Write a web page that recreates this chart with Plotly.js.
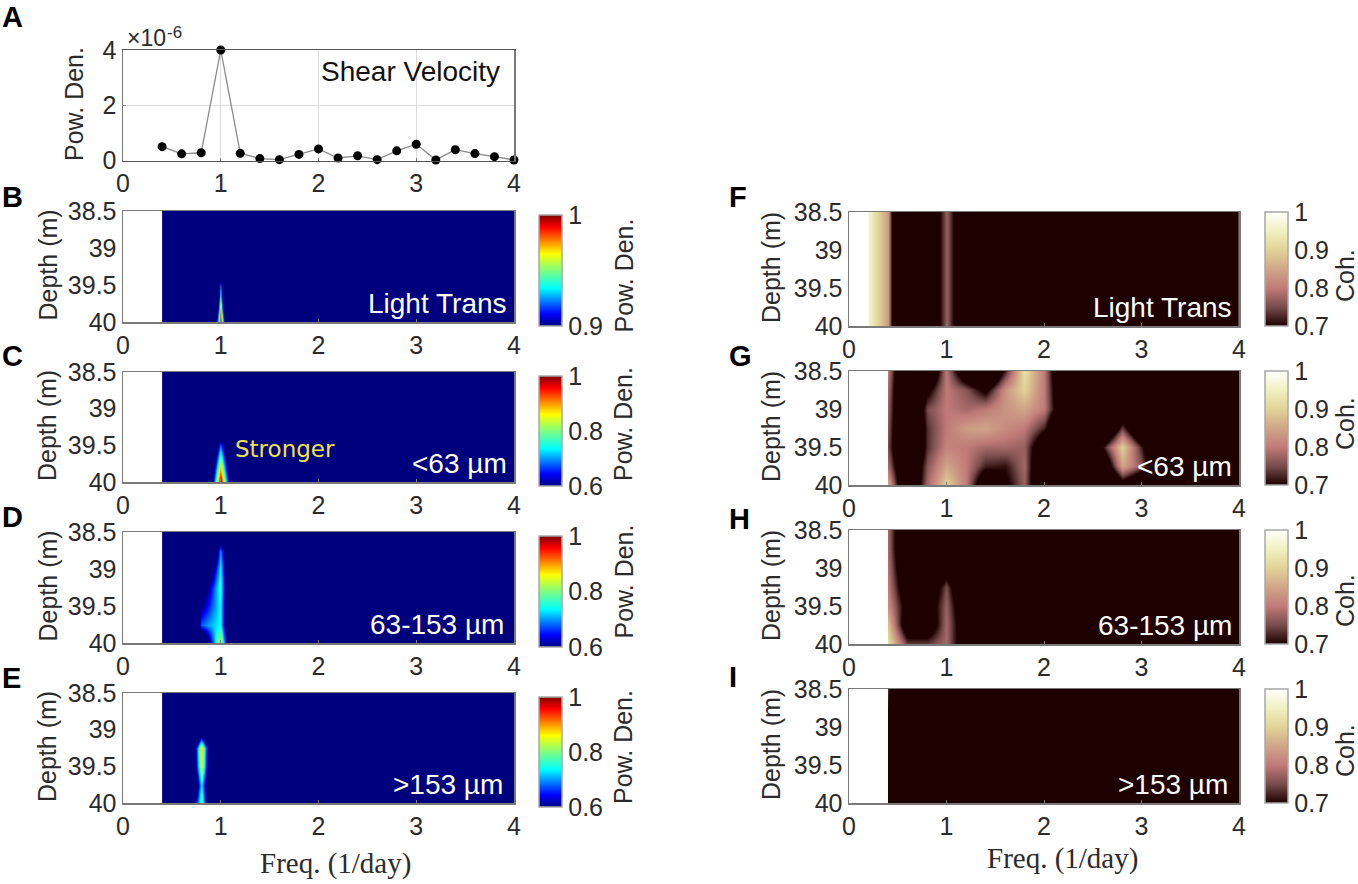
<!DOCTYPE html>
<html><head><meta charset="utf-8">
<script src="https://cdn.plot.ly/plotly-3.0.1.min.js"></script>
<style>html,body{margin:0;padding:0;background:#fff}#c{width:1358px;height:884px}
#c .hm image{filter:blur(0.7px)}</style></head>
<body><div id="c"></div>
<script>
// ---- data ----
const shearFreq=[0.4,0.6,0.8,1,1.2,1.4,1.6,1.8,2,2.2,2.4,2.6,2.8,3,3.2,3.4,3.6,3.8,4];
const shearPow=[0.5,0.24,0.28,4,0.26,0.07,0.03,0.22,0.42,0.09,0.17,0.03,0.35,0.59,0.02,0.39,0.25,0.14,0.02];
const depths=[38.5,38.75,39,39.25,39.5,39.75,40];
const freq=[0.4,0.6,0.8,1,1.2,1.4,1.6,1.8,2,2.2,2.4,2.6,2.8,3,3.2,3.4,3.6,3.8,4];
const freqF=[0.2].concat(freq);

const zB=[
[0,0,0,0.02,0,0,0,0,0,0,0,0,0,0,0,0,0,0,0],
[0,0,0,0.02,0,0,0,0,0,0,0,0,0,0,0,0,0,0,0],
[0,0,0,0.03,0,0,0,0,0,0,0,0,0,0,0,0,0,0,0],
[0,0,0,0.8,0,0,0,0,0,0,0,0,0,0,0,0,0,0,0],
[0,0,0.4,0.92,0.4,0,0,0,0,0,0,0,0,0,0,0,0,0,0],
[0,0,0.4,0.96,0.4,0,0,0,0,0,0,0,0,0,0,0,0,0,0],
[0,0,0.5,1,0.5,0,0,0,0,0,0,0,0,0,0,0,0,0,0]];
const zC=[
[0,0,0,0.05,0,0,0,0,0,0,0,0,0,0,0,0,0,0,0],
[0,0,0,0.05,0,0,0,0,0,0,0,0,0,0,0,0,0,0,0],
[0,0,0,0.06,0,0,0,0,0,0,0,0,0,0,0,0,0,0,0],
[0,0,0,0.4,0,0,0,0,0,0,0,0,0,0,0,0,0,0,0],
[0,0,0.02,0.68,0.02,0,0,0,0,0,0,0,0,0,0,0,0,0,0],
[0,0,0.03,0.85,0.03,0,0,0,0,0,0,0,0,0,0,0,0,0,0],
[0,0,0.05,1,0.05,0,0,0,0,0,0,0,0,0,0,0,0,0,0]];
const zD=[
[0,0,0,0.45,0,0,0,0,0,0,0,0,0,0,0,0,0,0,0],
[0,0,0.05,0.7,0.05,0,0,0,0,0,0,0,0,0,0,0,0,0,0],
[0,0,0.35,0.74,0.05,0,0,0,0,0,0,0,0,0,0,0,0,0,0],
[0,0,0.52,0.76,0.05,0,0,0,0,0,0,0,0,0,0,0,0,0,0],
[0,0,0.6,0.74,0.05,0,0,0,0,0,0,0,0,0,0,0,0,0,0],
[0,0.05,0.68,0.74,0.05,0,0,0,0,0,0,0,0,0,0,0,0,0,0],
[0,0,0.42,0.85,0.05,0,0,0,0,0,0,0,0,0,0,0,0,0,0]];
const zE=[
[0,0,0.05,0,0,0,0,0,0,0,0,0,0,0,0,0,0,0,0],
[0,0,0.1,0,0,0,0,0,0,0,0,0,0,0,0,0,0,0,0],
[0,0,0.45,0,0,0,0,0,0,0,0,0,0,0,0,0,0,0,0],
[0,0,0.88,0.02,0,0,0,0,0,0,0,0,0,0,0,0,0,0,0],
[0,0,0.86,0.02,0,0,0,0,0,0,0,0,0,0,0,0,0,0,0],
[0,0,0.74,0.02,0,0,0,0,0,0,0,0,0,0,0,0,0,0,0],
[0,0.2,0.8,0,0,0,0,0,0,0,0,0,0,0,0,0,0,0,0]];
const zF=[
[0.96,0.84,0.1,0.57,0.77,0.57,0.1,0.1,0.1,0.1,0.1,0.1,0.1,0.1,0.1,0.1,0.1,0.1,0.1,0.1],
[0.96,0.84,0.1,0.57,0.77,0.57,0.1,0.1,0.1,0.1,0.1,0.1,0.1,0.1,0.1,0.1,0.1,0.1,0.1,0.1],
[0.96,0.84,0.1,0.57,0.77,0.57,0.1,0.1,0.1,0.1,0.1,0.1,0.1,0.1,0.1,0.1,0.1,0.1,0.1,0.1],
[0.96,0.84,0.1,0.57,0.77,0.57,0.1,0.1,0.1,0.1,0.1,0.1,0.1,0.1,0.1,0.1,0.1,0.1,0.1,0.1],
[0.96,0.84,0.1,0.57,0.77,0.57,0.1,0.1,0.1,0.1,0.1,0.1,0.1,0.1,0.1,0.1,0.1,0.1,0.1,0.1],
[0.96,0.84,0.1,0.57,0.77,0.57,0.1,0.1,0.1,0.1,0.1,0.1,0.1,0.1,0.1,0.1,0.1,0.1,0.1,0.1],
[0.96,0.84,0.1,0.57,0.77,0.57,0.1,0.1,0.1,0.1,0.1,0.1,0.1,0.1,0.1,0.1,0.1,0.1,0.1,0.1]];
const zG=[
[0.8,0.5,0.55,0.8,0.6,0.5,0.72,0.92,0.8,0.55,0.3,0.3,0.3,0.3,0.3,0.3,0.3,0.3,0.3],
[0.78,0.5,0.68,0.8,0.76,0.68,0.83,0.9,0.8,0.58,0.3,0.3,0.3,0.3,0.3,0.3,0.3,0.3,0.3],
[0.77,0.5,0.75,0.8,0.78,0.8,0.83,0.85,0.8,0.6,0.3,0.3,0.6,0.3,0.3,0.3,0.3,0.3,0.3],
[0.76,0.5,0.73,0.8,0.84,0.85,0.82,0.8,0.72,0.5,0.3,0.5,0.74,0.55,0.3,0.3,0.3,0.3,0.3],
[0.75,0.5,0.73,0.81,0.8,0.78,0.78,0.77,0.6,0.3,0.3,0.7,0.9,0.72,0.5,0.3,0.3,0.3,0.3],
[0.78,0.55,0.76,0.85,0.8,0.72,0.71,0.78,0.55,0.3,0.3,0.58,0.85,0.76,0.55,0.3,0.3,0.3,0.3],
[0.85,0.55,0.78,0.9,0.8,0.6,0.68,0.77,0.55,0.3,0.3,0.45,0.65,0.55,0.3,0.3,0.3,0.3,0.3]];
const zH=[
[0.78,0.55,0.3,0.3,0.3,0.3,0.3,0.3,0.3,0.3,0.3,0.3,0.3,0.3,0.3,0.3,0.3,0.3,0.3],
[0.78,0.55,0.3,0.3,0.3,0.3,0.3,0.3,0.3,0.3,0.3,0.3,0.3,0.3,0.3,0.3,0.3,0.3,0.3],
[0.79,0.58,0.4,0.64,0.4,0.3,0.3,0.3,0.3,0.3,0.3,0.3,0.3,0.3,0.3,0.3,0.3,0.3,0.3],
[0.8,0.62,0.6,0.75,0.55,0.3,0.3,0.3,0.3,0.3,0.3,0.3,0.3,0.3,0.3,0.3,0.3,0.3,0.3],
[0.82,0.66,0.64,0.77,0.6,0.3,0.3,0.3,0.3,0.3,0.3,0.3,0.3,0.3,0.3,0.3,0.3,0.3,0.3],
[0.88,0.62,0.62,0.78,0.62,0.3,0.3,0.3,0.3,0.3,0.3,0.3,0.3,0.3,0.3,0.3,0.3,0.3,0.3],
[0.92,0.74,0.74,0.78,0.62,0.3,0.3,0.3,0.3,0.3,0.3,0.3,0.3,0.3,0.3,0.3,0.3,0.3,0.3]];
const zI=[
[0.73,0.3,0.3,0.3,0.3,0.3,0.3,0.3,0.3,0.3,0.3,0.3,0.3,0.3,0.3,0.3,0.3,0.3,0.3],
[0.7,0.3,0.3,0.3,0.3,0.3,0.3,0.3,0.3,0.3,0.3,0.3,0.3,0.3,0.3,0.3,0.3,0.3,0.3],
[0.6,0.3,0.3,0.3,0.3,0.3,0.3,0.3,0.3,0.3,0.3,0.3,0.3,0.3,0.3,0.3,0.3,0.3,0.3],
[0.6,0.3,0.3,0.3,0.3,0.3,0.3,0.3,0.3,0.3,0.3,0.3,0.3,0.3,0.3,0.3,0.3,0.3,0.3],
[0.6,0.3,0.3,0.3,0.3,0.3,0.3,0.3,0.3,0.3,0.3,0.3,0.3,0.3,0.3,0.3,0.3,0.3,0.3],
[0.6,0.3,0.3,0.3,0.3,0.3,0.3,0.3,0.3,0.3,0.3,0.3,0.3,0.3,0.3,0.3,0.3,0.3,0.3],
[0.6,0.3,0.3,0.3,0.3,0.3,0.3,0.3,0.3,0.3,0.3,0.3,0.3,0.3,0.3,0.3,0.3,0.3,0.3]];

const jet=[[0,'#00007f'],[0.11,'#0000ff'],[0.34,'#00ffff'],[0.5,'#7fff7f'],[0.65,'#ffff00'],[0.89,'#ff0000'],[1,'#7f0000']];
const coh=[[0,'#1e0000'],[0.17,'#7a4e4e'],[0.33,'#c07a78'],[0.5,'#d0a688'],[0.67,'#e2d498'],[0.83,'#f0f0c0'],[1,'#ffffff']];

// ---- layout ----
const W=1358,H=884;
const L={x0:123,x1:514,cb:539}, R={x0:849,x1:1239,cb:1265};
const panels=[
 {id:'B',z:zB,x:freq,col:L,t:211,b:322,c:[0.9,1],dt:0.1,cs:jet,ct:'Pow. Den.',cd:9,lab:'Light Trans',lx:509},
 {id:'C',z:zC,x:freq,col:L,t:372,b:482,c:[0.6,1],dt:0.2,cs:jet,ct:'Pow. Den.',cd:-3,lab:'<63 µm',lx:509},
 {id:'D',z:zD,x:freq,col:L,t:532,b:643,c:[0.6,1],dt:0.2,cs:jet,ct:'Pow. Den.',cd:-6,lab:'63-153 µm',lx:506},
 {id:'E',z:zE,x:freq,col:L,t:693,b:803,c:[0.6,1],dt:0.2,cs:jet,ct:'Pow. Den.',cd:-1,lab:'>153 µm',lx:505},
 {id:'F',z:zF,x:freqF,col:R,t:212,b:326,c:[0.7,1],dt:0.1,cs:coh,ct:'Coh.',cd:7,lab:'Light Trans',lx:1234},
 {id:'G',z:zG,x:freq,col:R,t:371,b:485,c:[0.7,1],dt:0.1,cs:coh,ct:'Coh.',cd:-4,lab:'<63 µm',lx:1234},
 {id:'H',z:zH,x:freq,col:R,t:530,b:644,c:[0.7,1],dt:0.1,cs:coh,ct:'Coh.',cd:14,lab:'63-153 µm',lx:1234},
 {id:'I',z:zI,x:freq,col:R,t:689,b:803,c:[0.7,1],dt:0.1,cs:coh,ct:'Coh.',cd:5,lab:'>153 µm',lx:1230}
];
const letters=[['A',0,17],['B',0,197],['C',0,356],['D',0,517],['E',0,678],['F',727,197],['G',727,356],['H',727,519],['I',727,677]];

const FONT='"Liberation Sans",Arial,sans-serif', TC='#2b2b2b', SP='#7a7a7a', TF=25;
const traces=[],shapes=[],ann=[];
const layout={width:W,height:H,margin:{l:0,r:0,t:0,b:0},paper_bgcolor:'#fff',plot_bgcolor:'#fff',showlegend:false,font:{family:FONT,size:TF,color:TC}};
function dom(a,b,S){return [a/S,b/S];}
function axX(anchor,col,grid){return {domain:dom(col.x0,col.x1,W),range:[0,4],anchor:anchor,tickvals:[0,1,2,3,4],ticktext:['0','1','2','3','4'],
  ticks:'inside',ticklen:3,tickcolor:SP,showline:true,linecolor:SP,linewidth:1.5,mirror:true,zeroline:false,showgrid:!!grid,gridcolor:'#dcdcdc',tickfont:{size:TF,color:TC},layer:'above traces'};}
function txt(text,x,y,o){ann.push(Object.assign({text:text,x:x/W,y:1-y/H,xref:'paper',yref:'paper',showarrow:false,xanchor:'center',yanchor:'middle'},o||{}));}

// panel A
layout.xaxis=axX('y',L,true);
layout.xaxis.linecolor='#555';
layout.yaxis={domain:[1-160.5/H,1-50/H],range:[0,4],anchor:'x',tickvals:[0,2,4],ticktext:['0','2','4'],ticks:'inside',ticklen:3,tickcolor:SP,showline:true,linecolor:'#777',linewidth:1.5,mirror:true,zeroline:false,showgrid:true,gridcolor:'#dcdcdc',tickfont:{size:TF,color:TC}};
traces.push({type:'scatter',mode:'lines+markers',x:shearFreq,y:shearPow,xaxis:'x',yaxis:'y',cliponaxis:false,line:{color:'#8a8a8a',width:1.3},marker:{color:'#000',size:9}});
txt('Shear Velocity',502,71,{xanchor:'right',font:{size:28,color:'#111'}});
txt('×10',125,38,{xanchor:'left',font:{size:23,color:TC}});
txt('-6',165,33,{xanchor:'left',font:{size:17,color:TC}});
txt('Pow. Den.',74,104,{textangle:-90,font:{size:25,color:TC}});

panels.forEach((p,i)=>{
  const n=i+2, xk='x'+n, yk='y'+n, ca=i===0?'coloraxis':'coloraxis'+(i+1);
  layout['xaxis'+n]=axX(yk,p.col,false);
  layout['yaxis'+n]={domain:[1-p.b/H,1-p.t/H],range:[40,38.5],anchor:xk,tickvals:[38.5,39,39.5,40],ticktext:['38.5','39','39.5','40'],ticks:'inside',ticklen:3,tickcolor:SP,
     showline:true,linecolor:SP,linewidth:1.5,mirror:true,zeroline:false,showgrid:false,tickfont:{size:TF,color:TC},layer:'above traces'};
  traces.push({type:'heatmap',x:p.x,y:depths,z:p.z,xaxis:xk,yaxis:yk,coloraxis:ca,zsmooth:'best',hoverinfo:'skip'});
  const cbT=p.col===L?p.t+4:p.t, cbLen=p.b-p.t;
  layout[ca]={cmin:p.c[0],cmax:p.c[1],colorscale:p.cs,colorbar:{
     x:p.col.cb/W,xanchor:'left',xref:'paper',y:1-cbT/H,yanchor:'top',yref:'paper',len:cbLen,lenmode:'pixels',thickness:23,thicknessmode:'pixels',
     outlinewidth:1.5,outlinecolor:'#a8a8a8',borderwidth:0,bgcolor:'rgba(0,0,0,0)',xpad:0,ypad:0,ticks:'',tick0:p.c[0],dtick:p.dt,tickfont:{size:TF,color:TC},ticklabelposition:'outside'}};
  // blank region left of the first frequency column
  shapes.push({type:'rect',layer:'above',xref:xk,yref:yk,x0:0,x1:p.x[0],y0:38.5,y1:40,fillcolor:'#fff',line:{width:0}});
  const cy=(p.t+p.b)/2;
  txt(p.lab,p.lx,p.b-19,{xanchor:'right',font:{size:28,color:'#fff'}});
  txt('Depth (m)',p.col===L?47:771,cy-1,{textangle:-90,font:{size:25,color:TC}});
  txt(p.ct,p.col===L?623:1345,cy+p.cd,{textangle:-90,font:{size:25,color:TC}});
});
letters.forEach(l=>txt('<b>'+l[0]+'</b>',l[1],l[2],{xanchor:'left',font:{size:29,color:'#000'}}));
txt('Stronger',285,449,{font:{size:23,color:'#eee04a',family:'"DejaVu Sans",sans-serif'}});
txt('Freq. (1/day)',335,863,{font:{size:29,color:TC,family:'"Liberation Serif",serif'}});
txt('Freq. (1/day)',1062,858,{font:{size:29,color:TC,family:'"Liberation Serif",serif'}});
layout.shapes=shapes; layout.annotations=ann;
Plotly.newPlot('c',traces,layout,{staticPlot:true,displayModeBar:false});
</script></body></html>
